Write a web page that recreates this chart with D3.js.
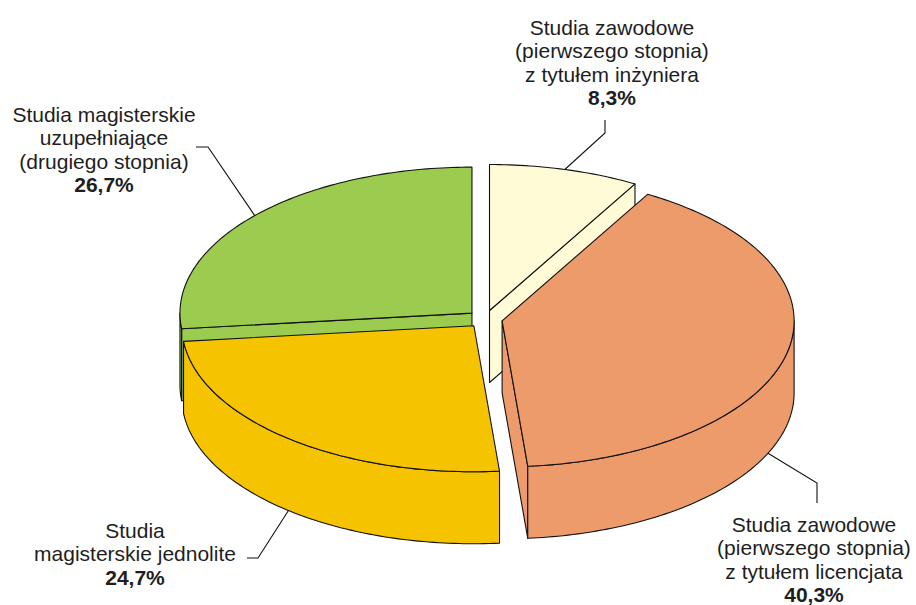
<!DOCTYPE html>
<html>
<head>
<meta charset="utf-8">
<script src="https://cdn.jsdelivr.net/npm/d3@7"></script>
<style>
  body { margin: 0; background: #fff; }
  text { font-family: "Liberation Sans", Arial, sans-serif; font-size: 21px; fill: #1e1e1e; }
</style>
</head>
<body>
<div id="content"></div>
<script>
// data
const categories = [
  ['Studia zawodowe', '(pierwszego stopnia)', 'z tytułem inżyniera'],
  ['Studia zawodowe', '(pierwszego stopnia)', 'z tytułem licencjata'],
  ['Studia', 'magisterskie jednolite'],
  ['Studia magisterskie', 'uzupełniające', '(drugiego stopnia)']
];
const values = [8.3, 40.3, 24.7, 26.7];
const colors = ['#fffbd6', '#ee9b6b', '#f6c300', '#9bcc50'];

var app = {};
app.width = 916;
app.height = 605;
app.cx = 485;
app.cy = 319;
app.rx = 292;
app.ry = 146;
app.depth = 72;
app.explode = 0.06;

// label layout: text anchor x, first baseline y, elbow points, where the leader meets the slice
app.labels = [
  { x: 612, y: 35,  elbow: [[605, 120], [605, 133]], at: null, bottom: false },
  { x: 814, y: 532, elbow: [[817, 503], [817, 483]], at: 114.4, bottom: true },
  { x: 135, y: 538, elbow: [[247, 558], [258, 558]], at: null, bottom: true },
  { x: 104, y: 122, elbow: [[196, 147], [208, 147]], at: null, bottom: false }
];
app.lineH = 23.3;

app.pie = d3.pie().sort(null).value(d => d)
            .startAngle(0).endAngle(2 * Math.PI);
app.arcs = app.pie(values);

app.arcs.forEach((d) => {
  const mid = (d.startAngle + d.endAngle) / 2;
  d.mid = mid;
  d.ox = app.cx + app.explode * app.rx * Math.sin(mid);
  d.oy = app.cy - app.explode * app.ry * Math.cos(mid);
});

function pt(d, a, h) {
  return [d.ox + app.rx * Math.sin(a), d.oy - app.ry * Math.cos(a) + h];
}
function arcPts(d, a0, a1, h) {
  const n = Math.max(2, Math.ceil((a1 - a0) / (Math.PI / 180)));
  return d3.range(n + 1).map(i => pt(d, a0 + (a1 - a0) * i / n, h));
}

const closed = d3.line().curve(d3.curveLinearClosed);
const open = d3.line();

app.svg = d3.select('#content').append('svg')
            .attr('width', app.width)
            .attr('height', app.height);

const g = app.svg.append('g')
                 .attr('stroke', '#111')
                 .attr('stroke-width', 1.1)
                 .attr('stroke-linejoin', 'round');

// radial cut faces that face the viewer
app.arcs.forEach((d, i) => {
  [[d.startAngle, d.startAngle - Math.PI / 2], [d.endAngle, d.endAngle + Math.PI / 2]].forEach(([a, n]) => {
    if (Math.cos(n) < -0.01) {
      g.append('path')
       .attr('d', closed([[d.ox, d.oy], pt(d, a, 0), pt(d, a, app.depth), [d.ox, d.oy + app.depth]]))
       .attr('fill', colors[i]);
    }
  });
});

// outer walls, front half only
app.arcs.forEach((d, i) => {
  const t0 = Math.max(d.startAngle, Math.PI / 2);
  const t1 = Math.min(d.endAngle, 3 * Math.PI / 2);
  if (t1 > t0) {
    g.append('path')
     .attr('d', closed(arcPts(d, t0, t1, 0).concat(arcPts(d, t0, t1, app.depth).reverse())))
     .attr('fill', colors[i]);
  }
});

// top faces
app.arcs.forEach((d, i) => {
  g.append('path')
   .attr('d', closed([[d.ox, d.oy]].concat(arcPts(d, d.startAngle, d.endAngle, 0))))
   .attr('fill', colors[i]);
});

// leaders
app.arcs.forEach((d, i) => {
  const L = app.labels[i];
  const a = L.at == null ? d.mid : L.at * Math.PI / 180;
  const end = pt(d, a, L.bottom ? app.depth : 0);
  app.svg.append('path')
     .attr('d', open(L.elbow.concat([end])))
     .attr('fill', 'none')
     .attr('stroke', '#111')
     .attr('stroke-width', 1.1);
});

// labels
const fmt = v => d3.format('.1f')(v).replace('.', ',') + '%';
app.arcs.forEach((d, i) => {
  const L = app.labels[i];
  const t = app.svg.append('text').attr('text-anchor', 'middle');
  categories[i].forEach((line, k) => {
    t.append('tspan').attr('x', L.x).attr('y', L.y + k * app.lineH).text(line);
  });
  t.append('tspan').attr('x', L.x)
   .attr('y', L.y + categories[i].length * app.lineH)
   .attr('font-weight', 'bold')
   .text(fmt(values[i]));
});
</script>
</body>
</html>
